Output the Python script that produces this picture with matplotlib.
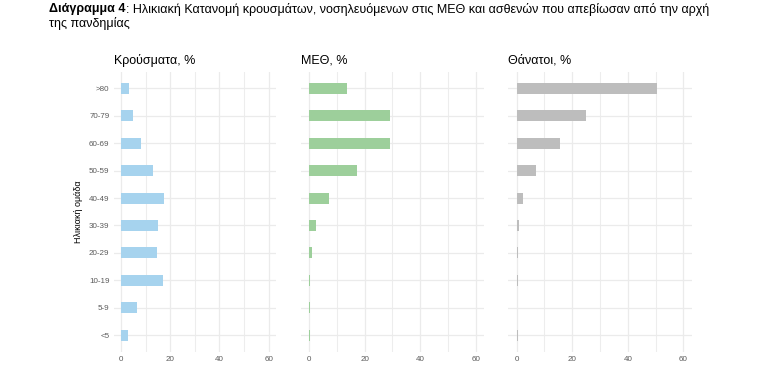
import matplotlib
matplotlib.use("Agg")
import matplotlib.pyplot as plt
from matplotlib.ticker import MultipleLocator

plt.rcParams["font.family"] = ["Liberation Sans Narrow", "Liberation Sans", "DejaVu Sans"]

# age groups, bottom to top
age_groups = ["<5", "5-9", "10-19", "20-29", "30-39", "40-49", "50-59", "60-69", "70-79", ">80"]

# percentages per age group (same order)
cases = [2.8, 6.5, 17.1, 14.6, 15.0, 17.5, 13.0, 8.1, 4.7, 3.3]
icu = [0.2, 0.2, 0.4, 0.9, 2.5, 7.2, 17.3, 29.1, 29.1, 13.7]
deaths = [0.3, 0.0, 0.3, 0.3, 0.8, 2.3, 6.9, 15.6, 24.9, 50.4]

panel_titles = ["Κρούσματα, %", "ΜΕΘ, %", "Θάνατοι, %"]
panel_colors = ["#a6d3ee", "#9dcf9b", "#bdbdbd"]
x_ticks = [0, 20, 40, 60]

fig = plt.figure(figsize=(7.72, 3.8), dpi=100)
W, H = 772, 380

# panel extents in pixels (left, right)
panel_px = [(113.6, 276.1), (300.7, 484.0), (508.4, 691.6)]
top_px, bot_px = 72, 351.5

series = [cases, icu, deaths]
ypos = list(range(len(age_groups)))

for i, (vals, title, col) in enumerate(zip(series, panel_titles, panel_colors)):
    l, r = panel_px[i]
    ax = fig.add_axes([l / W, 1 - bot_px / H, (r - l) / W, (bot_px - top_px) / H])
    ax.barh(ypos, vals, height=0.4, color=col, zorder=3)
    ax.set_xlim(-3, 63)
    ax.set_ylim(-0.6, len(age_groups) - 0.4)
    ax.set_xticks(x_ticks)
    ax.xaxis.set_minor_locator(MultipleLocator(10))
    ax.set_yticks(ypos)
    ax.grid(which="major", color="#ebebeb", linewidth=0.9, zorder=0)
    ax.grid(which="minor", axis="x", color="#ededed", linewidth=0.8, zorder=0)
    for s in ax.spines.values():
        s.set_visible(False)
    ax.tick_params(which="both", length=0, labelsize=5.8, labelcolor="#5a5a5a", pad=3)
    if i == 0:
        ax.set_yticklabels(age_groups)
        ax.set_ylabel("Ηλικιακή ομάδα", fontsize=6.5, labelpad=4)
    else:
        ax.set_yticklabels([])
    ax.set_title(title, fontsize=9, loc="left", pad=6)

# figure caption: bold lead-in followed by regular text
x0, y0 = 49 / W, 1 - 9 / H
t1 = fig.text(x0, y0, "Διάγραμμα 4", fontsize=9, fontweight="bold", va="center")
fig.canvas.draw()
bb = t1.get_window_extent(fig.canvas.get_renderer())
fig.text(bb.x1 / W, y0,
         ": Ηλικιακή Κατανομή κρουσμάτων, νοσηλευόμενων στις ΜΕΘ και ασθενών που απεβίωσαν από την αρχή",
         fontsize=9, va="center")
fig.text(x0, 1 - 24 / H, "της πανδημίας", fontsize=9, va="center")

fig.savefig("out.png", dpi=100)
